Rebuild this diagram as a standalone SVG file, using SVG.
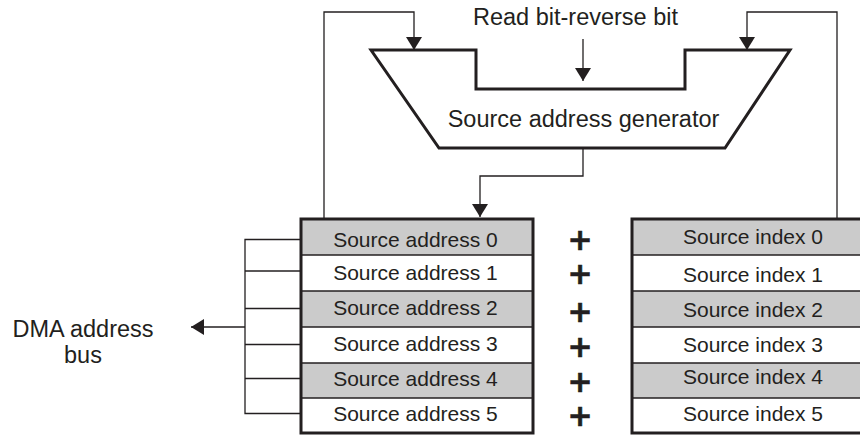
<svg xmlns="http://www.w3.org/2000/svg" width="860" height="435" viewBox="0 0 860 435">
<style>
text{font-family:"Liberation Sans",Arial,sans-serif;fill:#231f20}
.lbl{font-size:23.5px}
.box{font-size:21px;text-anchor:middle}
.thin{fill:none;stroke:#231f20;stroke-width:1.3}
.gray{fill:#cbcbcb}
.white{fill:#ffffff}
.div{stroke:#231f20;stroke-width:1.5}
.frame{fill:none;stroke:#231f20;stroke-width:3}
.plus{font-family:"DejaVu Sans",sans-serif;font-size:30px;font-weight:bold;text-anchor:middle;stroke:#231f20;stroke-width:0.6}
</style>
<defs>
<marker id="ah" markerWidth="14" markerHeight="16" refX="13" refY="8" orient="auto" markerUnits="userSpaceOnUse">
<path d="M0,0 L13,8 L0,16 Z" fill="#231f20"/>
</marker>
</defs>
<rect width="860" height="435" fill="#ffffff"/>

<g id="generator">
<polygon points="371,50 476,50 476,89 685,89 685,50 790,50 725,148 439,148" fill="#ffffff" stroke="#231f20" stroke-width="3" stroke-linejoin="miter"/>
<text class="lbl" x="583.5" y="127" text-anchor="middle">Source address generator</text>
</g>

<g id="read-bit-label">
<text class="lbl" x="575.5" y="25" text-anchor="middle">Read bit-reverse bit</text>
</g>

<g id="source-address-regs">
<rect class="gray" x="301" y="219" width="232" height="36"/>
<rect class="white" x="301" y="255" width="232" height="36"/>
<rect class="gray" x="301" y="291" width="232" height="36"/>
<rect class="white" x="301" y="327" width="232" height="36"/>
<rect class="gray" x="301" y="363" width="232" height="35"/>
<rect class="white" x="301" y="398" width="232" height="35"/>
<line class="div" x1="301" y1="255" x2="533" y2="255"/>
<line class="div" x1="301" y1="291" x2="533" y2="291"/>
<line class="div" x1="301" y1="327" x2="533" y2="327"/>
<line class="div" x1="301" y1="363" x2="533" y2="363"/>
<line class="div" x1="301" y1="398" x2="533" y2="398"/>
<rect class="frame" x="301" y="219" width="232" height="214"/>
<text class="box" x="415.5" y="247">Source address 0</text>
<text class="box" x="415.5" y="280">Source address 1</text>
<text class="box" x="415.5" y="315">Source address 2</text>
<text class="box" x="415.5" y="351">Source address 3</text>
<text class="box" x="415.5" y="386">Source address 4</text>
<text class="box" x="415.5" y="421">Source address 5</text>
</g>

<g id="source-index-regs">
<rect class="gray" x="632" y="219" width="242" height="36"/>
<rect class="white" x="632" y="255" width="242" height="36"/>
<rect class="gray" x="632" y="291" width="242" height="36"/>
<rect class="white" x="632" y="327" width="242" height="36"/>
<rect class="gray" x="632" y="363" width="242" height="35"/>
<rect class="white" x="632" y="398" width="242" height="35"/>
<line class="div" x1="632" y1="255" x2="874" y2="255"/>
<line class="div" x1="632" y1="291" x2="874" y2="291"/>
<line class="div" x1="632" y1="327" x2="874" y2="327"/>
<line class="div" x1="632" y1="363" x2="874" y2="363"/>
<line class="div" x1="632" y1="398" x2="874" y2="398"/>
<rect class="frame" x="632" y="219" width="242" height="214"/>
<text class="box" x="753" y="243.5">Source index 0</text>
<text class="box" x="753" y="281.5">Source index 1</text>
<text class="box" x="753" y="316.5">Source index 2</text>
<text class="box" x="753" y="351.5">Source index 3</text>
<text class="box" x="753" y="383.5">Source index 4</text>
<text class="box" x="753" y="421">Source index 5</text>
</g>

<g id="plus-signs">
<text class="plus" x="580" y="250">+</text>
<text class="plus" x="580" y="284">+</text>
<text class="plus" x="580" y="321.5">+</text>
<text class="plus" x="580" y="356.5">+</text>
<text class="plus" x="580" y="392">+</text>
<text class="plus" x="580" y="425.5">+</text>
</g>

<g id="dma-bus-label">
<text class="lbl" x="83" y="336.5" text-anchor="middle">DMA address</text>
<text class="lbl" x="83" y="362.5" text-anchor="middle">bus</text>
</g>

<g id="connectors">
<polyline class="thin" points="324,219 324,12 414,12 414,50" marker-end="url(#ah)"/>
<polyline class="thin" points="837,219 837,12 747,12 747,50" marker-end="url(#ah)"/>
<line class="thin" x1="583" y1="39" x2="583" y2="81" marker-end="url(#ah)"/>
<polyline class="thin" points="583,148 583,176 480,176 480,217" marker-end="url(#ah)"/>
<polyline class="thin" points="301,239.5 245,239.5 245,413.5 301,413.5"/>
<line class="thin" x1="245" y1="271" x2="301" y2="271"/>
<line class="thin" x1="245" y1="308.5" x2="301" y2="308.5"/>
<line class="thin" x1="245" y1="344.5" x2="301" y2="344.5"/>
<line class="thin" x1="245" y1="378.5" x2="301" y2="378.5"/>
<line class="thin" x1="245" y1="327" x2="191" y2="327" marker-end="url(#ah)"/>
</g>
</svg>
